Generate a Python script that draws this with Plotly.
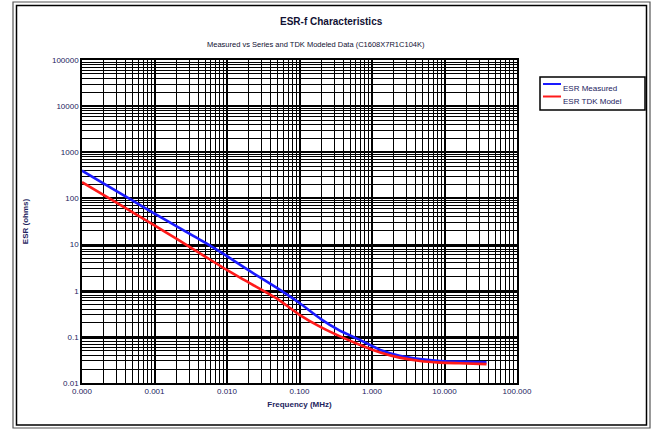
import plotly.graph_objects as go

freq_mhz = [0.0001, 0.0002, 0.0005, 0.001, 0.002, 0.005, 0.01, 0.02, 0.05,
            0.1, 0.2, 0.35, 0.7, 1.3, 2.4, 4.6, 8.7, 16, 38]
esr_measured = [400, 210, 90, 47, 25, 11, 5.6, 2.75, 1.12,
                0.54, 0.24, 0.14, 0.084, 0.052, 0.039, 0.033, 0.030, 0.029, 0.028]
esr_tdk_model = [225, 118, 50, 26, 13.5, 5.5, 2.8, 1.5, 0.66,
                 0.3, 0.16, 0.105, 0.066, 0.046, 0.0355, 0.030, 0.0277, 0.0268, 0.0256]

series_names = ["ESR Measured", "ESR TDK Model"]
series_colors = ["#1a1aff", "#ff1a1a"]

x_tickvals = [0.0001, 0.001, 0.01, 0.1, 1, 10, 100]
x_ticktext = ["0.000", "0.001", "0.010", "0.100", "1.000", "10.000", "100.000"]
y_tickvals = [0.01, 0.1, 1, 10, 100, 1000, 10000, 100000]
y_ticktext = ["0.01", "0.1", "1", "10", "100", "1000", "10000", "100000"]

title_text = "ESR-f Characteristics"
subtitle_text = "Measured vs Series and TDK Modeled Data (C1608X7R1C104K)"

FONT = "Liberation Sans, Arial, sans-serif"
NAVY = "#23235e"

fig = go.Figure()
for name, color, vals in zip(series_names, series_colors, [esr_measured, esr_tdk_model]):
    fig.add_trace(go.Scatter(x=freq_mhz, y=vals, mode="lines", name=name,
                             line=dict(color=color, width=2.6, shape="spline", smoothing=0.5)))

W, H = 657, 432
L, R, T, B = 82, 517, 60, 383
pw, ph = R - L, B - T

def px(x):
    return (x - L) / pw

def py(y):
    return (B - y) / ph

axis_common = dict(
    type="log", automargin=False,
    showline=True, linecolor="black", linewidth=1.5, mirror=True,
    showgrid=True, gridcolor="black", gridwidth=2,
    ticks="", zeroline=False,
    tickfont=dict(family=FONT, size=8, color=NAVY),
    minor=dict(showgrid=True, gridcolor="black", gridwidth=1.2, dtick="D1", ticks=""),
)

fig.update_xaxes(**axis_common, range=[-4, 2], tickvals=x_tickvals, ticktext=x_ticktext,
                 title=dict(text="<b>Frequency (MHz)</b>", font=dict(family=FONT, size=8, color=NAVY),
                            standoff=6))
fig.update_yaxes(**axis_common, range=[-2, 5], tickvals=y_tickvals, ticktext=y_ticktext,
                 title=dict(text="<b>ESR (ohms)</b>", font=dict(family=FONT, size=8, color=NAVY),
                            standoff=22))

shapes = [
    dict(type="rect", xref="paper", yref="paper",
         x0=px(13), x1=px(650), y0=py(428), y1=py(2),
         line=dict(color="#555555", width=1.2), fillcolor="rgba(0,0,0,0)"),
    dict(type="rect", xref="paper", yref="paper",
         x0=px(16.5), x1=px(646.5), y0=py(425), y1=py(5.5),
         line=dict(color="black", width=1.5), fillcolor="rgba(0,0,0,0)"),
    # legend box
    dict(type="rect", xref="paper", yref="paper",
         x0=px(540), x1=px(645), y0=py(110), y1=py(77),
         line=dict(color="black", width=1.5), fillcolor="white"),
]

annotations = [
    dict(text="<b>" + title_text + "</b>", xref="paper", yref="paper", x=px(331), y=py(22),
         showarrow=False, font=dict(family=FONT, size=10, color="#111133"),
         xanchor="center", yanchor="middle"),
    dict(text=subtitle_text, xref="paper", yref="paper", x=px(316), y=py(44),
         showarrow=False, font=dict(family=FONT, size=7.5, color="#111133"),
         xanchor="center", yanchor="middle"),
]

legend_rows_y = [84, 96.5]
for name, color, ly in zip(series_names, series_colors, legend_rows_y):
    shapes.append(dict(type="line", xref="paper", yref="paper",
                       x0=px(543), x1=px(561), y0=py(ly), y1=py(ly),
                       line=dict(color=color, width=2)))
    annotations.append(dict(text=name, xref="paper", yref="paper", x=px(561), y=py(ly + 4.5),
                            showarrow=False, xanchor="left", yanchor="middle",
                            font=dict(family=FONT, size=8, color=NAVY)))

fig.update_layout(
    width=W, height=H,
    margin=dict(l=L, r=W - R, t=T, b=H - B, pad=0, autoexpand=False),
    paper_bgcolor="white", plot_bgcolor="white",
    showlegend=False,
    shapes=shapes,
    annotations=annotations,
)

fig.write_html("out.html", config={"displayModeBar": False},
               post_script="document.body.style.margin='0px';document.body.style.padding='0px';")
